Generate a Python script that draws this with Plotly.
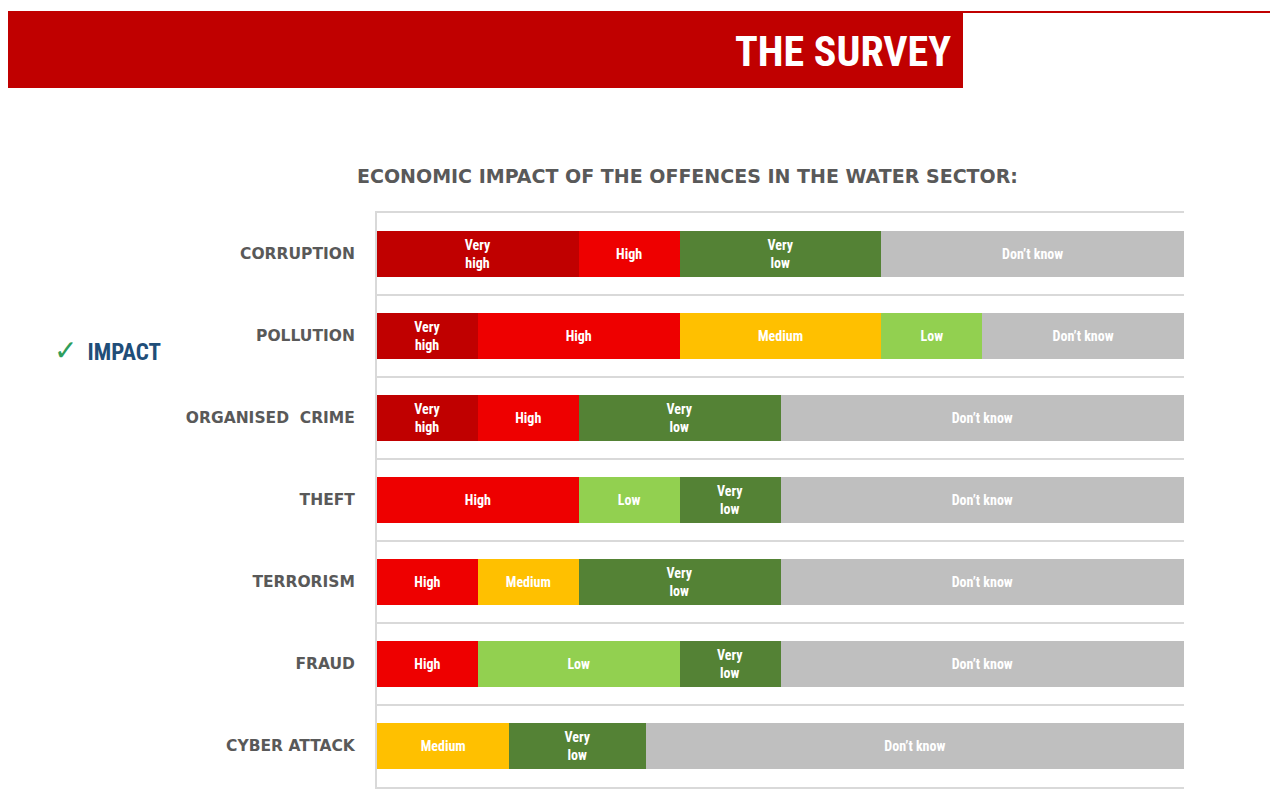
import plotly.graph_objects as go

categories = ["CORRUPTION", "POLLUTION", "ORGANISED  CRIME", "THEFT", "TERRORISM", "FRAUD", "CYBER ATTACK"]
levels = ["Very high", "High", "Medium", "Low", "Very low", "Don’t know"]
level_text = ["Very<br>high", "High", "Medium", "Low", "Very<br>low", "Don’t know"]

very_high = [25, 12.5, 12.5, 0, 0, 0, 0]
high = [12.5, 25, 12.5, 25, 12.5, 12.5, 0]
medium = [0, 25, 0, 0, 12.5, 0, 16.4]
low = [0, 12.5, 0, 12.5, 0, 25, 0]
very_low = [25, 0, 25, 12.5, 25, 12.5, 16.9]
dont_know = [37.5, 25, 50, 50, 50, 50, 66.7]

series = [very_high, high, medium, low, very_low, dont_know]
colors = ["#C00000", "#EE0000", "#FFC000", "#92D050", "#548235", "#BFBFBF"]

OFF = 8  # page body offset
W, H = 1278 - OFF, 800 - OFF
L, R, T, B = 377 - OFF, 1184 - OFF, 213 - OFF, 787 - OFF

fig = go.Figure()
for name, txt, vals, col in zip(levels, level_text, series, colors):
    fig.add_trace(go.Bar(
        y=categories, x=vals, orientation="h", name=name,
        marker=dict(color=col, line=dict(width=0)),
        text=[txt if v > 0 else "" for v in vals],
        textposition="inside", insidetextanchor="middle",
        textangle=0,
        textfont=dict(color="white", size=14, weight="bold",
                      family="Liberation Sans Narrow, Roboto Condensed, Open Sans, sans-serif"),
        hoverinfo="x+name",
    ))

fig.update_layout(
    barmode="stack",
    bargap=0.44,
    width=W, height=H,
    margin=dict(l=L, r=W - R, t=T, b=H - B),
    paper_bgcolor="white", plot_bgcolor="white",
    showlegend=False,
    uniformtext=dict(minsize=8, mode="show"),
    xaxis=dict(range=[0, 100], showticklabels=False, showgrid=False, zeroline=False,
               showline=True, mirror=True, linecolor="#D9D9D9", linewidth=2,
               ticks="", fixedrange=True),
    yaxis=dict(
        categoryorder="array", categoryarray=categories, autorange="reversed",
        tickson="boundaries", showgrid=True, gridcolor="#D9D9D9", gridwidth=2,
        showline=True, linecolor="#D9D9D9", linewidth=2,
        ticks="", ticklabelstandoff=17,
        tickfont=dict(family="DejaVu Sans, sans-serif", size=15.5, color="#595959", weight="bold"),
    ),
)

def px_x(x):
    return (x - OFF - L) / (R - L)

def px_y(y):
    return (B - (y - OFF)) / (B - T)

# header band
fig.add_shape(type="rect", xref="paper", yref="paper",
              x0=px_x(8), x1=px_x(963), y0=px_y(88), y1=px_y(11),
              fillcolor="#C00000", line=dict(width=0), layer="below")
fig.add_shape(type="line", xref="paper", yref="paper",
              x0=px_x(8), x1=px_x(1278), y0=px_y(12), y1=px_y(12),
              line=dict(color="#C00000", width=2))

fig.add_annotation(xref="paper", yref="paper", x=px_x(953), y=px_y(51),
                   xanchor="right", yanchor="middle", showarrow=False,
                   text="<b>THE SURVEY</b>",
                   font=dict(family="Liberation Sans Narrow, Roboto Condensed, sans-serif", size=42, color="white"))

fig.add_annotation(xref="paper", yref="paper", x=px_x(687), y=px_y(176),
                   xanchor="center", yanchor="middle", showarrow=False,
                   text="<b>ECONOMIC IMPACT OF THE OFFENCES IN THE WATER SECTOR:</b>",
                   font=dict(family="DejaVu Sans, sans-serif", size=19, color="#595959"))

fig.add_annotation(xref="paper", yref="paper", x=px_x(52), y=px_y(350),
                   xanchor="left", yanchor="middle", showarrow=False,
                   text="<span style='color:#2E9E5B;font-size:28px'>✓</span>  <b>IMPACT</b>",
                   font=dict(family="Liberation Sans Narrow, Roboto Condensed, sans-serif", size=23, color="#1F4E79"))

fig.write_html("out.html")
